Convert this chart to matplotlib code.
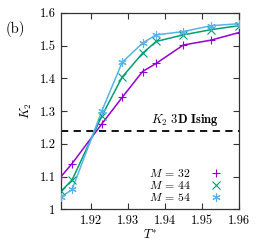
import matplotlib
matplotlib.use("Agg")
import matplotlib.pyplot as plt

plt.rcParams['font.family'] = 'serif'
plt.rcParams['font.serif'] = ['cmr10']
plt.rcParams['mathtext.fontset'] = 'cm'
plt.rcParams['axes.formatter.use_mathtext'] = True

# data
T = [1.912, 1.915, 1.923, 1.9285, 1.934, 1.9377, 1.945, 1.9525, 1.960]
k2_m32 = [1.100, 1.140, 1.261, 1.342, 1.421, 1.446, 1.502, 1.517, 1.540]
k2_m44 = [1.055, 1.090, 1.285, 1.404, 1.477, 1.513, 1.533, 1.549, 1.561]
k2_m54 = [1.037, 1.061, 1.300, 1.449, 1.508, 1.533, 1.543, 1.561, 1.567]
k2_ising = 1.239

labels = [r"$M\,=\,32$", r"$M\,=\,44$", r"$M\,=\,54$"]
colors = ["#9400d3", "#009e73", "#56b4e9"]
markers = ["+", "x", (6, 2, 0)]

xticks = [1.92, 1.93, 1.94, 1.95, 1.96]
yticks = [1.0, 1.1, 1.2, 1.3, 1.4, 1.5, 1.6]

fig = plt.figure(figsize=(2.59, 2.44), dpi=100)
ax = fig.add_axes([0.2355, 0.142, 0.687, 0.805])

ax.axhline(k2_ising, color="black", lw=1.3, dashes=(4, 3), zorder=1)
ax.text(1.9545, k2_ising + 0.01, r"$K_2$ $\mathbf{3D\ Ising}$", ha="right",
        va="bottom", fontsize=9)

for y, c, m, lab in zip([k2_m32, k2_m44, k2_m54], colors, markers, labels):
    ax.plot(T, y, color=c, lw=1.1, zorder=2)
    ax.plot(T, y, ls="none", marker=m, color=c, ms=6, mew=0.8, label=lab, zorder=3)

ax.set_xlim(1.912, 1.96)
ax.set_ylim(1.0, 1.6)
ax.set_xticks(xticks)
ax.set_xticklabels(["1.92", "1.93", "1.94", "1.95", "1.96"])
ax.set_yticks(yticks)
ax.set_yticklabels(["1", "1.1", "1.2", "1.3", "1.4", "1.5", "1.6"])
ax.tick_params(direction="in", top=True, right=True, length=4, width=0.8,
               labelsize=9, colors="#333333", labelcolor="black", pad=4)
for s in ax.spines.values():
    s.set_color("#333333")
    s.set_linewidth(0.9)

ax.set_xlabel(r"$T^{*}$", fontsize=9, labelpad=1)
ax.set_ylabel(r"$K_2$", fontsize=9, labelpad=4)

ax.legend(loc="lower right", frameon=False, markerfirst=False, fontsize=8.5,
          handlelength=1.0, labelspacing=0.0, handletextpad=1.6,
          borderaxespad=0.0, borderpad=0.2, bbox_to_anchor=(0.915, 0.02))

fig.text(0.02, 0.865, "(b)", fontsize=10.5)

fig.savefig("out.png", dpi=100)
